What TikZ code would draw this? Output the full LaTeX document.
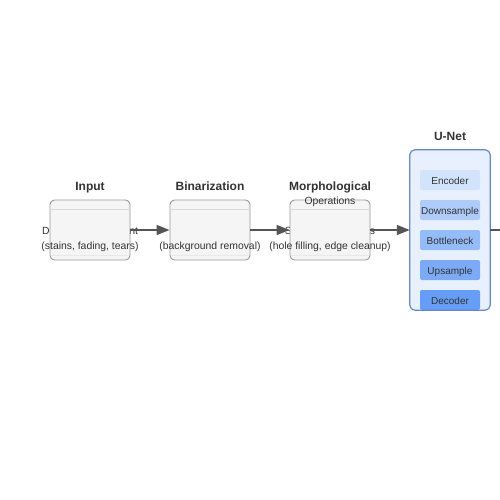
\documentclass[tikz,border=0pt]{standalone}
\usepackage{fontspec}
\setmainfont{Liberation Sans}
\usetikzlibrary{arrows.meta}
\definecolor{txt}{HTML}{333333}
\definecolor{stagefill}{HTML}{F5F5F5}
\definecolor{stageline}{HTML}{999999}
\definecolor{headline}{HTML}{DADADA}
\definecolor{arrowc}{HTML}{555555}
\definecolor{unetfill}{HTML}{E8F0FE}
\definecolor{unetline}{HTML}{6688C4}
\definecolor{cA}{HTML}{D2E3FC}
\definecolor{cB}{HTML}{AECBFA}
\definecolor{cC}{HTML}{94BCF8}
\definecolor{cD}{HTML}{7DAAF7}
\definecolor{cE}{HTML}{669DF6}
\begin{document}
\begin{tikzpicture}[x=1pt,y=-1pt,
  stagebox/.style={draw=stageline, fill=stagefill, line width=0.9pt, rounded corners=4.5pt,
    minimum width=80pt, minimum height=60pt, inner sep=0pt},
  titletxt/.style={text=txt, font=\fontsize{12}{14}\selectfont\bfseries, inner sep=0pt, anchor=base},
  subtxt/.style={text=txt, font=\fontsize{10.4}{12}\selectfont, inner sep=0pt, anchor=base},
  desctxt/.style={text=txt, font=\fontsize{10.4}{12}\selectfont, inner sep=0pt, anchor=base},
  flow/.style={draw=arrowc, line width=1.5pt, -{Triangle[length=13pt,width=10pt]}},
  unetbox/.style={fill=unetfill, rounded corners=5pt, minimum width=80pt, minimum height=160pt, inner sep=0pt},
  unetedge/.style={draw=unetline, line width=1.2pt, rounded corners=5pt},
  layer/.style={rounded corners=2pt, minimum width=60pt, minimum height=20pt, inner sep=0pt},
  layertxt/.style={text=txt, font=\fontsize{10}{12}\selectfont, inner sep=0pt, anchor=base},
  header/.style={draw=headline, line width=1pt},
  footer/.style={draw=headline!60, line width=0.6pt}
]
\useasboundingbox (0,0) rectangle (500,500);
\fill[white] (0,0) rectangle (500,500);

% hidden first lines (covered by boxes)
\node[desctxt] (inA) at (90,234.8) {Degraded Document};
\node[desctxt] (binA) at (210,234.8) {Thresholding};
\node[desctxt] (morA) at (330,234.8) {Shape Adjustments};

% stage boxes
\node[stagebox] (in) at (90,230) {};
\node[stagebox] (bin) at (210,230) {};
\node[stagebox] (mor) at (330,230) {};
\foreach \n in {in,bin,mor}{
  \draw[header] ([yshift=-10pt]\n.north west) -- ([yshift=-10pt]\n.north east);
  \draw[footer] ([xshift=1pt,yshift=5pt]\n.south west) -- ([xshift=-1pt,yshift=5pt]\n.south east);
}

% titles
\node[titletxt] (tin) at (90,190.4) {Input};
\node[titletxt] (tbin) at (210,190.4) {Binarization};
\node[titletxt] (tmor) at (330,190.4) {Morphological};
\node[subtxt] (tmor2) at (330,204.8) {Operations};
\node[titletxt] (tunet) at (450,140.4) {U-Net};

% second lines
\node[desctxt] (inB) at (90,249.8) {(stains, fading, tears)};
\node[desctxt] (binB) at (210,249.8) {(background removal)};
\node[desctxt] (morB) at (330,249.8) {(hole filling, edge cleanup)};

% U-Net
\node[unetbox] (unet) at (450,230) {};
\node[layer, fill=cA] (enc) at (450,180) {};
\node[layer, fill=cB] (down) at (450,210) {};
\node[layer, fill=cC] (bott) at (450,240) {};
\node[layer, fill=cD] (up) at (450,270) {};
\node[layer, fill=cE] (dec) at (450,300) {};
\node[layertxt] (encT) at (450,184.6) {Encoder};
\node[layertxt] (downT) at (450,214.6) {Downsample};
\node[layertxt] (bottT) at (450,244.6) {Bottleneck};
\node[layertxt] (upT) at (450,274.6) {Upsample};
\node[layertxt] (decT) at (450,304.6) {Decoder};
\draw[unetedge] (unet.south west) rectangle (unet.north east);

% connectors
\coordinate (outc) at (506,230);
\draw[flow] (in.east) -- (bin.west);
\draw[flow] (bin.east) -- (mor.west);
\draw[flow] (mor.east) -- (unet.west);
\draw[draw=arrowc, line width=1.5pt] (unet.east) -- (outc);
\end{tikzpicture}
\end{document}
